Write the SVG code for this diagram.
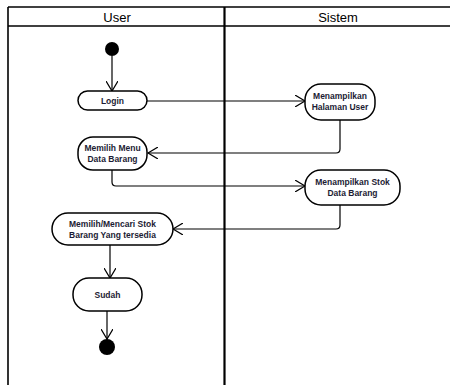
<svg xmlns="http://www.w3.org/2000/svg" width="450" height="385" viewBox="0 0 450 385">
<defs>
<marker id="open" markerWidth="12" markerHeight="12" refX="10" refY="6" orient="auto" markerUnits="userSpaceOnUse">
<path d="M0,0 L10,6 L0,12" fill="none" stroke="#000" stroke-width="1.2"/>
</marker>
</defs>
<style>
.lane{fill:none;stroke:#000;stroke-width:1.6}
.hdr{font-family:"Liberation Sans",Arial,sans-serif;font-size:13px;fill:#000;text-anchor:middle}
.act{fill:#fff;stroke:#000;stroke-width:1.5}
.lbl{font-family:"Liberation Sans",Arial,sans-serif;font-size:8.5px;font-weight:bold;fill:#1c1c34;text-anchor:middle}
.edge{fill:none;stroke:#000;stroke-width:1.2;marker-end:url(#open)}
</style>
<rect width="450" height="385" fill="#fff"/>
<g id="swimlanes">
<line class="lane" x1="8" y1="7" x2="450" y2="7"/>
<line class="lane" x1="8" y1="26" x2="450" y2="26"/>
<line class="lane" x1="8" y1="7" x2="8" y2="385"/>
<line x1="224.5" y1="7" x2="224.5" y2="385" stroke="#000" stroke-width="2.2"/>
<text class="hdr" x="117" y="21.5">User</text>
<text class="hdr" x="338" y="21.5">Sistem</text>
</g>
<g id="connectors">
<path class="edge" d="M112,56 V91"/>
<path class="edge" d="M147,101 H305"/>
<path class="edge" d="M340,120 V149 Q340,153 336,153 H148"/>
<path class="edge" d="M112,170 V182 Q112,186 116,186 H305"/>
<path class="edge" d="M340,205 V225 Q340,229 336,229 H173"/>
<path class="edge" d="M110,245 V278"/>
<path class="edge" d="M107,311 V339"/>
</g>
<g id="start"><circle cx="112" cy="49" r="7" fill="#000"/></g>
<g id="login">
<rect class="act" x="78" y="91" width="69" height="19" rx="9.5"/>
<text class="lbl" x="112.5" y="104">Login</text>
</g>
<g id="halaman-user">
<rect class="act" x="305" y="84" width="70" height="36" rx="16"/>
<text class="lbl" x="340" y="99">Menampilkan</text>
<text class="lbl" x="340" y="110">Halaman User</text>
</g>
<g id="memilih-menu">
<rect class="act" x="78" y="137" width="69" height="33" rx="15"/>
<text class="lbl" x="112.5" y="151">Memilih Menu</text>
<text class="lbl" x="112.5" y="162">Data Barang</text>
</g>
<g id="stok-data-barang">
<rect class="act" x="305" y="170" width="95" height="35" rx="16"/>
<text class="lbl" x="352.5" y="185">Menampilkan Stok</text>
<text class="lbl" x="352.5" y="196">Data Barang</text>
</g>
<g id="memilih-mencari">
<rect class="act" x="52" y="213" width="121" height="32" rx="16"/>
<text class="lbl" x="112.5" y="227">Memilih/Mencari Stok</text>
<text class="lbl" x="112.5" y="238">Barang Yang tersedia</text>
</g>
<g id="sudah">
<rect class="act" x="73" y="278" width="69" height="33" rx="16"/>
<text class="lbl" x="107.5" y="297.5">Sudah</text>
</g>
<g id="end"><circle cx="107" cy="347" r="8" fill="#000"/></g>
</svg>
